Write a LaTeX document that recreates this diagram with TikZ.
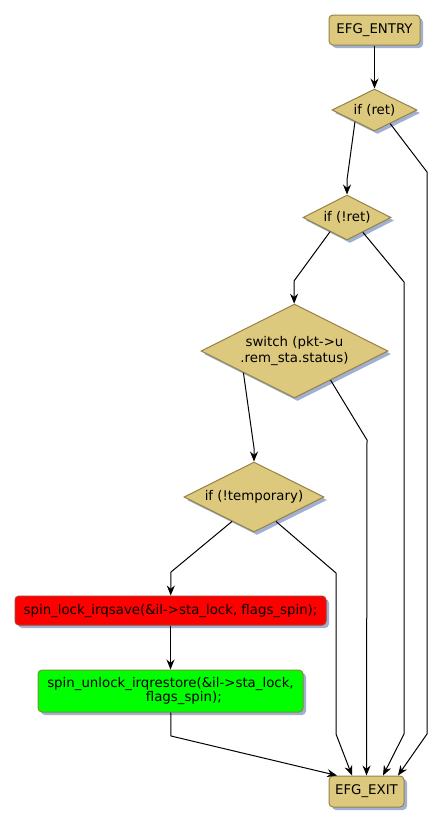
\documentclass[tikz,border=0pt]{standalone}
\usepackage{fontspec}
\setmainfont{DejaVu Sans}
\usetikzlibrary{positioning,arrows.meta,calc,shapes.geometric,shadows}
\definecolor{NodeTan}{RGB}{221,201,125}
\definecolor{NodeEdge}{RGB}{150,130,70}
\definecolor{ShadowBlue}{RGB}{160,176,210}
\definecolor{LockRed}{RGB}{255,0,0}
\definecolor{LockEdge}{RGB}{170,60,40}
\definecolor{UnlockGreen}{RGB}{0,255,0}
\definecolor{UnlockEdge}{RGB}{120,150,40}

\begin{document}
\begin{tikzpicture}[x=0.75pt, y=-0.75pt, font=\fontsize{10}{12}\selectfont, every node/.style={align=center}]
\tikzset{
  shade/.style={drop shadow={shadow xshift=2.25pt, shadow yshift=-2.25pt, fill=ShadowBlue, opacity=1}},
  box/.style={draw=NodeEdge, line width=0.75pt, rounded corners=3pt, fill=NodeTan, inner sep=0pt, shade},
  cond/.style={diamond, aspect=2, draw=NodeEdge, line width=0.75pt, fill=NodeTan, inner sep=0pt, shade},
  arr/.style={-{Stealth[length=7.5pt, width=6pt, inset=2.5pt]}, line width=0.75pt}
}
  \useasboundingbox (0,0) rectangle (443,825);

  \node[box, minimum width=68.25pt, minimum height=22.5pt] (entry) at (374.5,30) {EFG\_ENTRY};
  \node[cond, minimum width=63.75pt, minimum height=31.5pt] (ret) at (374.5,110) {if (ret)};
  \node[cond, minimum width=66pt, minimum height=33.75pt] (notret) at (347,217.5) {if (!ret)};
  \node[cond, minimum width=140.25pt, minimum height=70.5pt, font=\fontsize{10}{12.5}\selectfont] (switch) at (294.5,351) {switch (pkt->u\\.rem\_sta.status)};
  \node[cond, minimum width=105pt, minimum height=52.5pt] (temp) at (254,497) {if (!temporary)};
  \node[box, draw=LockEdge, fill=LockRed, minimum width=233.25pt, minimum height=21.75pt] (lock) at (170.5,610.5) {spin\_lock\_irqsave(\&il->sta\_lock, flags\_spin);};
  \node[box, draw=UnlockEdge, fill=UnlockGreen, minimum width=198.75pt, minimum height=31.5pt, font=\fontsize{10}{10}\selectfont] (unlock) at (170.5,691) {spin\_unlock\_irqrestore(\&il->sta\_lock,\\\hspace*{20pt}flags\_spin);};
  \node[box, minimum width=56.25pt, minimum height=23.25pt] (exit) at (366.5,791.5) {EFG\_EXIT};

  \draw[arr] (entry) -- (ret);
  \draw[arr] (ret.211.6) -- (347,180) -- (notret);
  \draw[arr] (ret.319.7) -- (427,172) -- (427,734) -- ($(exit.north)+(31.5,0)$);
  \draw[arr] (notret.220.5) -- (294,281) -- (switch);
  \draw[arr] (notret.317.8) -- (404,282) -- (404,734) -- ($(exit.north)+(16.5,0)$);
  \draw[arr] (switch.203.1) -- (254,448) -- (temp);
  \draw[arr] (switch.321.3) -- (367,440) -- (exit);
  \draw[arr] (temp.228.7) -- (171,572) -- (lock);
  \draw[arr] (temp.312.6) -- (336,573) -- (336,734) -- ($(exit.north)+(-14.5,0)$);
  \draw[arr] (lock) -- (unlock);
  \draw[arr] (unlock) -- (171,736) -- ($(exit.north)+(-29.5,0)$);
\end{tikzpicture}
\end{document}
